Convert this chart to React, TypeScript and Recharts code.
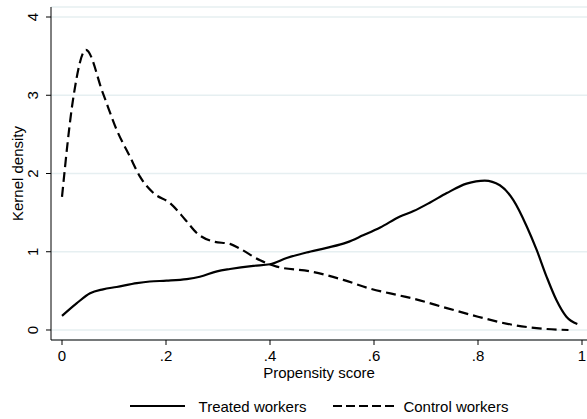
import React from 'react';
import { LineChart, Line, XAxis, YAxis, CartesianGrid, Legend } from 'recharts';

const FONT = '"Liberation Sans", Arial, Helvetica, sans-serif';

// Propensity score (x) and kernel density (y)
const treatedX = [0, 0.028, 0.054, 0.079, 0.105, 0.144, 0.169, 0.201, 0.24, 0.265, 0.298, 0.323, 0.368, 0.4, 0.432, 0.47, 0.509, 0.548, 0.579, 0.612, 0.65, 0.676, 0.708, 0.74, 0.778, 0.813, 0.842, 0.868, 0.894, 0.913, 0.932, 0.951, 0.97, 0.991];
const treatedY = [0.18, 0.34, 0.47, 0.52, 0.55, 0.6, 0.62, 0.63, 0.65, 0.68, 0.75, 0.78, 0.82, 0.84, 0.92, 0.99, 1.05, 1.12, 1.21, 1.31, 1.45, 1.52, 1.63, 1.75, 1.87, 1.91, 1.85, 1.66, 1.32, 1.02, 0.68, 0.38, 0.17, 0.077];

const controlX = [0, 0.022, 0.046, 0.079, 0.105, 0.131, 0.15, 0.176, 0.208, 0.237, 0.259, 0.291, 0.323, 0.342, 0.381, 0.413, 0.477, 0.541, 0.592, 0.65, 0.676, 0.74, 0.8, 0.868, 0.932, 0.974];
const controlY = [1.7, 2.98, 3.58, 3.02, 2.56, 2.21, 1.96, 1.75, 1.62, 1.41, 1.24, 1.13, 1.1, 1.04, 0.89, 0.81, 0.75, 0.64, 0.53, 0.44, 0.4, 0.28, 0.17, 0.064, 0.013, 0.0];

const xTicks = [0, 0.2, 0.4, 0.6, 0.8, 1];
const xTickLabels = ['0', '.2', '.4', '.6', '.8', '1'];
const yTicks = [0, 1, 2, 3, 4];

const seriesNames = ['Treated workers', 'Control workers'];

const treatedData = treatedX.map((x, i) => ({ x, y: treatedY[i] }));
const controlData = controlX.map((x, i) => ({ x, y: controlY[i] }));

const DASH = '10 5';

const YTick = (props: any) => {
  const { x, y, payload } = props;
  const cx = x - 11;
  return (
    <text
      x={cx}
      y={y}
      transform={`rotate(-90, ${cx}, ${y})`}
      textAnchor="middle"
      dy="0.355em"
      fontSize={15}
      fontFamily={FONT}
      fill="#000"
    >
      {payload.value}
    </text>
  );
};

const LegendContent = () => (
  <div
    style={{
      display: 'flex',
      justifyContent: 'center',
      alignItems: 'center',
      height: 20,
      fontFamily: FONT,
      fontSize: 15,
      color: '#000',
    }}
  >
    <svg width={55} height={4} style={{ display: 'block' }}>
      <line x1={0} y1={2} x2={55} y2={2} stroke="#000" strokeWidth={2} />
    </svg>
    <span style={{ marginLeft: 14, marginRight: 27 }}>{seriesNames[0]}</span>
    <svg width={61} height={4} style={{ display: 'block' }}>
      <line x1={0} y1={2} x2={61} y2={2} stroke="#000" strokeWidth={2} strokeDasharray="9 4" />
    </svg>
    <span style={{ marginLeft: 9 }}>{seriesNames[1]}</span>
  </div>
);

export default function App() {
  return (
    <div style={{ position: 'absolute', left: 0, top: 0, background: '#fff' }}>
      <LineChart
        width={587}
        height={419}
        margin={{ top: 7, right: 0, bottom: 29, left: 0 }}
        style={{ fontFamily: FONT }}
      >
        <CartesianGrid horizontal vertical={false} stroke="#e6eff1" strokeWidth={1.5} />
        <XAxis
          type="number"
          dataKey="x"
          domain={[-0.021154, 1.009615]}
          ticks={xTicks}
          interval={0}
          allowDataOverflow
          tickFormatter={(v: number) => xTickLabels[xTicks.indexOf(v)] ?? String(v)}
          height={50}
          tickSize={5}
          tickMargin={5}
          stroke="#000"
          tick={{ fill: '#000', fontSize: 15, fontFamily: FONT }}
          label={{
            content: (p: any) => {
              const vb = p.viewBox;
              return (
                <text
                  x={vb.x + vb.width / 2}
                  y={vb.y + 38}
                  textAnchor="middle"
                  fontSize={15}
                  fontFamily={FONT}
                  fill="#000"
                >
                  Propensity score
                </text>
              );
            },
          }}
        />
        <YAxis
          type="number"
          domain={[-0.12780, 4.12780]}
          ticks={yTicks}
          interval={0}
          allowDataOverflow
          width={51}
          tickSize={5}
          tickMargin={2}
          stroke="#000"
          tick={<YTick />}
          label={{
            content: (p: any) => {
              const vb = p.viewBox;
              const cx = vb.x + 18;
              const cy = vb.y + vb.height / 2;
              return (
                <text
                  x={cx}
                  y={cy}
                  transform={`rotate(-90, ${cx}, ${cy})`}
                  textAnchor="middle"
                  dy="0.355em"
                  fontSize={15}
                  fontFamily={FONT}
                  fill="#000"
                >
                  Kernel density
                </text>
              );
            },
          }}
        />
        <Legend
          layout="horizontal"
          verticalAlign="middle"
          align="center"
          wrapperStyle={{ top: 396, left: 51, width: 536 }}
          content={<LegendContent />}
        />
        <Line
          data={treatedData}
          dataKey="y"
          name={seriesNames[0]}
          type="monotone"
          stroke="#000"
          strokeWidth={2.2}
          dot={false}
          activeDot={false}
          isAnimationActive={false}
        />
        <Line
          data={controlData}
          dataKey="y"
          name={seriesNames[1]}
          type="monotone"
          stroke="#000"
          strokeWidth={2.2}
          strokeDasharray={DASH}
          dot={false}
          activeDot={false}
          isAnimationActive={false}
        />
      </LineChart>
    </div>
  );
}
